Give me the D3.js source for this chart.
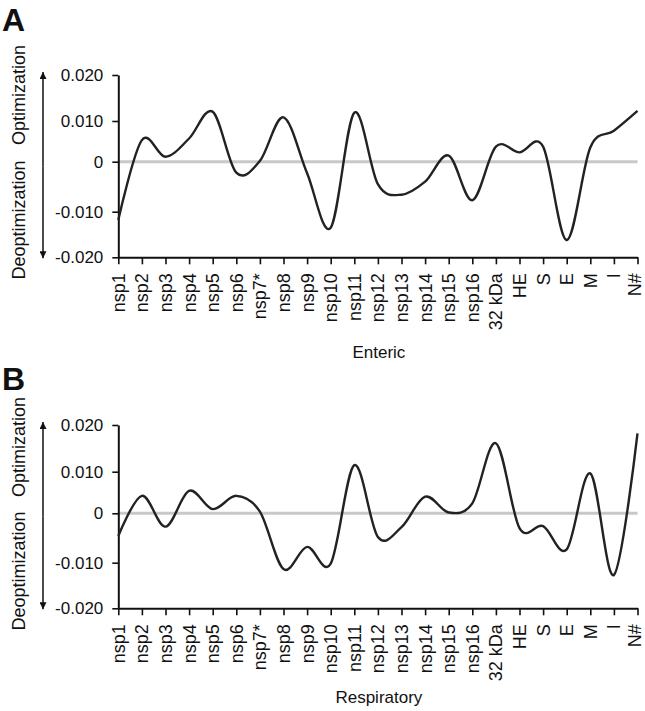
<!DOCTYPE html>
<html>
<head>
<meta charset="utf-8">
<script src="https://cdn.jsdelivr.net/npm/d3@7/dist/d3.min.js"></script>
<style>
  html, body { margin: 0; padding: 0; background: #fff; }
  svg { display: block; }
  text { font-family: Arial, "Liberation Sans", Helvetica, sans-serif; fill: #111; }
</style>
</head>
<body>
<svg id="chart" width="645" height="711"></svg>
<script>
const categories = ["nsp1","nsp2","nsp3","nsp4","nsp5","nsp6","nsp7*","nsp8","nsp9","nsp10",
  "nsp11","nsp12","nsp13","nsp14","nsp15","nsp16","32 kDa","HE","S","E","M","I","N#"];

const entericValues = [-0.0118, 0.0053, 0.0012, 0.0057, 0.0120, -0.0022, 0.0002, 0.0108, -0.0023, -0.0135,
  0.0118, -0.0045, -0.0066, -0.0040, 0.0015, -0.0077, 0.0037, 0.0023, 0.0037, -0.0162, 0.0035, 0.0076, 0.0122];

const respiratoryValues = [-0.0046, 0.0042, -0.0027, 0.0054, 0.0010, 0.0042, 0.0004, -0.0114, -0.0068, -0.0102,
  0.0114, -0.0048, -0.0028, 0.0040, 0.0002, 0.0024, 0.0161, -0.0030, -0.0026, -0.0073, 0.0096, -0.0127, 0.0182];

const yTicks = [-0.02, -0.01, 0, 0.01, 0.02];
const yTickLabels = ["-0.020", "-0.010", "0", "0.010", "0.020"];

const panels = [
  { letter: "A", values: entericValues, xTitle: "Enteric",
    yRange: [257.3, 211.7, 161.7, 121, 75], letterY: 31, titleY: 358,
    optY: 95, deoptY: 220 },
  { letter: "B", values: respiratoryValues, xTitle: "Respiratory",
    yRange: [608.3, 562.7, 513.3, 471.7, 425], letterY: 390, titleY: 703,
    optY: 447, deoptY: 571 }
];

const svg = d3.select("#chart");

const defs = svg.append("defs");
defs.append("marker").attr("id", "arrowEnd")
  .attr("viewBox", "0 0 10 10").attr("refX", 10).attr("refY", 5)
  .attr("markerWidth", 7).attr("markerHeight", 7).attr("markerUnits", "userSpaceOnUse")
  .attr("orient", "auto")
  .append("path").attr("d", "M0,0 L10,5 L0,10 Z").attr("fill", "#111");

const xLeft = 118.3, xRight = 637.5;

panels.forEach(p => {
  const g = svg.append("g");
  const x = d3.scalePoint().domain(categories).range([xLeft, xRight]);
  const y = d3.scaleLinear().domain(yTicks).range(p.yRange);

  // panel letter
  g.append("text").attr("x", 2).attr("y", p.letterY)
    .attr("font-size", 32).attr("font-weight", "bold").text(p.letter);

  // y titles
  g.append("text")
    .attr("transform", `translate(19,${p.optY}) rotate(-90)`)
    .attr("text-anchor", "middle").attr("dominant-baseline", "central")
    .attr("font-size", 18).text("Optimization");
  g.append("text")
    .attr("transform", `translate(19,${p.deoptY}) rotate(-90)`)
    .attr("text-anchor", "middle").attr("dominant-baseline", "central")
    .attr("font-size", 18).text("Deoptimization");

  // double arrow
  const yTop = y(0.02), yBot = y(-0.02);
  g.append("line")
    .attr("x1", 43).attr("x2", 43)
    .attr("y1", (yTop + yBot) / 2).attr("y2", yTop - 3)
    .attr("stroke", "#111").attr("stroke-width", 1.5)
    .attr("marker-end", "url(#arrowEnd)");
  g.append("line")
    .attr("x1", 43).attr("x2", 43)
    .attr("y1", (yTop + yBot) / 2).attr("y2", yBot + 1)
    .attr("stroke", "#111").attr("stroke-width", 1.5)
    .attr("marker-end", "url(#arrowEnd)");

  // zero line
  g.append("line")
    .attr("x1", xLeft).attr("x2", xRight)
    .attr("y1", y(0)).attr("y2", y(0))
    .attr("stroke", "#c8c8c8").attr("stroke-width", 3);

  // y axis
  const yAxis = d3.axisLeft(y).tickValues(yTicks)
    .tickFormat((d, i) => yTickLabels[i]).tickSize(6).tickSizeOuter(0).tickPadding(9);
  const ya = g.append("g").attr("transform", `translate(${xLeft},0)`).call(yAxis);
  ya.selectAll("text").attr("font-size", 17).attr("fill", "#111");

  // x axis
  const xAxis = d3.axisBottom(x).tickSize(7).tickSizeOuter(0).tickPadding(0);
  const xa = g.append("g").attr("transform", `translate(0,${y(-0.02)})`).call(xAxis);
  xa.selectAll("text")
    .attr("font-size", 18).attr("fill", "#111")
    .attr("text-anchor", "end")
    .attr("dy", null).attr("y", null)
    .attr("dominant-baseline", "central")
    .attr("transform", (d, i) => `translate(${i === categories.length - 1 ? -3 : 0},16) rotate(-90)`);

  [ya, xa].forEach(a => {
    a.select(".domain").attr("stroke", "#111").attr("stroke-width", 2);
    a.selectAll(".tick line").attr("stroke", "#111").attr("stroke-width", 1.6);
  });

  // x title
  g.append("text").attr("x", (xLeft + xRight) / 2 + 1).attr("y", p.titleY)
    .attr("text-anchor", "middle").attr("font-size", 17).text(p.xTitle);

  // curve
  const line = d3.line()
    .x((d, i) => x(categories[i]))
    .y(d => y(d))
    .curve(d3.curveCardinal.tension(0));
  g.append("path").datum(p.values)
    .attr("d", line)
    .attr("fill", "none").attr("stroke", "#222").attr("stroke-width", 2.4);
});
</script>
</body>
</html>
